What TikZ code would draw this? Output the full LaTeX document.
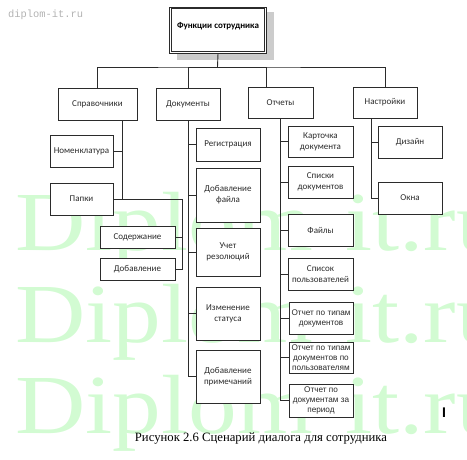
\documentclass[tikz,border=0pt]{standalone}
\usepackage{fontspec}
\setmainfont{Carlito}
\newfontfamily\arialfont{Liberation Sans}
\newfontfamily\timesfont{Liberation Serif}
\newfontfamily\wmfont[FakeStretch=1.16]{Liberation Serif}
\newfontfamily\monofont{Liberation Mono}
\definecolor{ink}{HTML}{2B2B2B}
\definecolor{wmark}{HTML}{D2FBD2}
\tikzset{
  box/.style={draw=ink,line width=0.9pt,fill=white,align=center,inner sep=0pt,
              minimum width=64pt,minimum height=32pt,text=ink,
              font=\fontsize{9}{11}\selectfont},
  rep/.style={box,font=\arialfont\fontsize{8.2}{10}\selectfont},
  headbox/.style={draw=ink,line width=0.8pt,fill=white,minimum width=97pt,
              inner sep=0pt,text height=22pt,text depth=24pt,text=black,
              font=\bfseries\fontsize{9}{11}\selectfont},
  conn/.style={draw=ink,line width=0.9pt},
  wm/.style={text=wmark,anchor=base west,inner sep=0pt,
             font=\wmfont\fontsize{84}{84}\selectfont}
}
\begin{document}
\begin{tikzpicture}[x=1pt,y=-1pt]
  \useasboundingbox (0,0) rectangle (467,460);
  % watermark
  \foreach \y in {251,343,433}
    \node[wm] (wm\y) at (15,\y) {Diplom-it.ru};
  \node[font=\monofont\fontsize{10.4}{12}\selectfont,text=black!30,anchor=west,inner sep=0pt] (site) at (8,15) {diplom-it.ru};
  % root
  \fill[black!20] (177,12) rectangle (274,60);
  \node[headbox] (fun) at (218,30) {Функции сотрудника};
  \draw[ink,line width=1pt] ([shift={(2pt,-2pt)}]fun.north west) rectangle ([shift={(-2pt,2pt)}]fun.south east);
  % first level
  \node[box,minimum width=79pt] (spr) at (97.5,104) {Справочники};
  \node[box] (doc) at (188,104) {Документы};
  \node[box,minimum width=65pt,minimum height=31pt] (otch) at (280.5,102.5) {Отчеты};
  \node[box,minimum height=31pt] (nast) at (385,102.5) {Настройки};
  \coordinate (bus) at (217.5,67);
  \draw[conn] (fun.south) -- (bus);
  \draw[conn] (spr.north) |- (bus) -| (nast.north);
  \draw[conn] (doc.north) |- (bus);
  \draw[conn] ([xshift=-14.5pt]otch.north) |- (bus);
  % справочники
  \node[box,minimum width=63pt] (nom) at (81.5,151) {Номенклатура};
  \node[box,minimum width=63pt] (pap) at (81.5,199) {Папки};
  \node[box,minimum width=75pt,minimum height=22pt] (sod) at (137.5,237) {Содержание};
  \node[box,minimum width=75pt,minimum height=22pt] (dob) at (137.5,269) {Добавление};
  \draw[conn] ([xshift=24.5pt]spr.south) |- (nom.east);
  \draw[conn] ([xshift=24.5pt]spr.south) |- (pap.east);
  \coordinate (papT) at (182,199);
  \draw[conn] (pap.east) -- (papT) |- (sod.east);
  \draw[conn] (papT) |- (dob.east);
  % документы
  \node[box,minimum height=33pt] (reg) at (228,144.5) {Регистрация};
  \node[box,minimum height=54pt] (dobf) at (228,195) {Добавление\\файла};
  \node[box,minimum height=48pt] (uchet) at (228,252) {Учет\\резолюций};
  \node[box,minimum height=53pt] (izm) at (228,313.5) {Изменение\\статуса};
  \node[box,minimum height=53pt] (prim) at (228,376.5) {Добавление\\примечаний};
  \foreach \n in {reg,dobf,uchet,izm,prim}
    \draw[conn] (doc.south) |- (\n.west);
  % отчеты
  \node[box,minimum width=65pt,minimum height=31pt] (kart) at (320.5,141.5) {Карточка\\документа};
  \node[box,minimum width=65pt] (spis) at (320.5,182) {Списки\\документов};
  \node[box,minimum width=65pt] (fail) at (320.5,230) {Файлы};
  \node[box,minimum width=65pt] (spuser) at (320.5,274) {Список\\пользователей};
  \node[rep] (otp1) at (321,318) {Отчет по типам\\документов};
  \node[rep,minimum height=31pt] (otp2) at (321,357.5) {Отчет по типам\\документов по\\пользователям};
  \node[rep,minimum height=33pt] (otp3) at (321,400.5) {Отчет по\\документам за\\период};
  \foreach \n in {kart,spis,fail,spuser,otp1,otp2,otp3}
    \draw[conn] (otch.south) |- (\n.west);
  % настройки
  \node[box] (diz) at (410,142) {Дизайн};
  \node[box] (okna) at (410,198) {Окна};
  \draw[conn] ([xshift=-14pt]nast.south) |- (diz.west);
  \draw[conn] ([xshift=-14pt]nast.south) |- (okna.west);
  \node[font=\arialfont\bfseries\fontsize{14}{14}\selectfont,inner sep=0pt] (cursor) at (444,413) {I};
  \node[font=\timesfont\fontsize{12.7}{14}\selectfont,anchor=base,inner sep=0pt] (caption) at (261,442)
    {Рисунок 2.6 Сценарий диалога для сотрудника};
\end{tikzpicture}
\end{document}
